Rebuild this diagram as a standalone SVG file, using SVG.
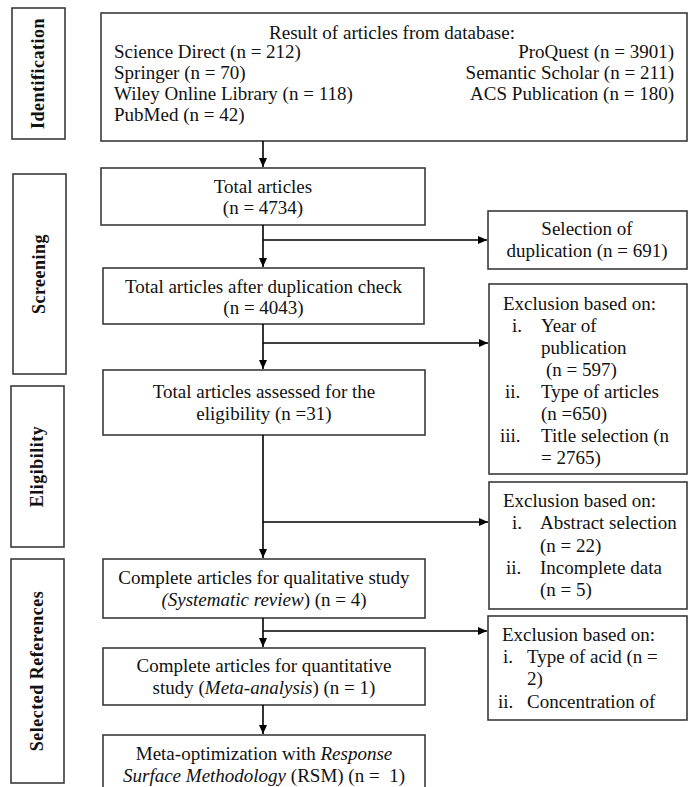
<svg xmlns="http://www.w3.org/2000/svg" width="688" height="787" viewBox="0 0 688 787">
<style>
.box{fill:#fff;stroke:#3a3a3a;stroke-width:1.6}
.t{font-family:"Liberation Serif","Times New Roman",serif;font-size:19px;fill:#111}
.c{text-anchor:middle}
.side{font-family:"Liberation Serif","Times New Roman",serif;font-size:18px;font-weight:bold;fill:#111;text-anchor:middle;letter-spacing:0.5px}
.ln{stroke:#000;stroke-width:1.6;fill:none}
</style>
<defs>
<marker id="ah" markerUnits="userSpaceOnUse" markerWidth="10" markerHeight="10" refX="9" refY="5" orient="auto">
<path d="M0,1 L9,5 L0,9 Z" fill="#000"/>
</marker>
</defs>
<rect width="688" height="787" fill="#fff"/>

<g id="side-identification">
<rect class="box" x="12" y="8" width="53" height="131"/>
<text class="side" transform="translate(44,73.5) rotate(-90)">Identification</text>
</g>
<g id="side-screening">
<rect class="box" x="13" y="174" width="53" height="200"/>
<text class="side" transform="translate(45,274) rotate(-90)">Screening</text>
</g>
<g id="side-eligibility">
<rect class="box" x="11" y="386" width="53" height="161"/>
<text class="side" transform="translate(43,466.5) rotate(-90)">Eligibility</text>
</g>
<g id="side-selected">
<rect class="box" x="11" y="559" width="53" height="224"/>
<text class="side" transform="translate(43,671) rotate(-90)">Selected References</text>
</g>

<g id="n-database">
<rect class="box" x="101" y="13" width="586" height="128"/>
<text class="t c" x="392" y="39">Result of articles from database:</text>
<text class="t" x="114" y="58">Science Direct (n = 212)</text>
<text class="t" x="114" y="79">Springer (n = 70)</text>
<text class="t" x="114" y="100">Wiley Online Library (n = 118)</text>
<text class="t" x="114" y="121">PubMed (n = 42)</text>
<text class="t" x="674" y="58" text-anchor="end">ProQuest (n = 3901)</text>
<text class="t" x="674" y="79" text-anchor="end">Semantic Scholar (n = 211)</text>
<text class="t" x="674" y="100" text-anchor="end">ACS Publication (n = 180)</text>
</g>

<g id="n-total">
<rect class="box" x="101" y="168" width="324" height="57"/>
<text class="t c" x="263" y="193">Total articles</text>
<text class="t c" x="263" y="214">(n = 4734)</text>
</g>

<g id="n-dupcheck">
<rect class="box" x="103" y="268" width="321" height="56"/>
<text class="t c" x="263.5" y="293">Total articles after duplication check</text>
<text class="t c" x="263.5" y="314">(n = 4043)</text>
</g>

<g id="n-assessed">
<rect class="box" x="103" y="370" width="322" height="65"/>
<text class="t c" x="264" y="398">Total articles assessed for the</text>
<text class="t c" x="264" y="420">eligibility (n =31)</text>
</g>

<g id="n-qualitative">
<rect class="box" x="103" y="559" width="322" height="59"/>
<text class="t c" x="264" y="584">Complete articles for qualitative study</text>
<text class="t c" x="264" y="606"><tspan font-style="italic">(Systematic review</tspan>) (n = 4)</text>
</g>

<g id="n-quantitative">
<rect class="box" x="103" y="648" width="322" height="57"/>
<text class="t c" x="264" y="672">Complete articles for quantitative</text>
<text class="t c" x="264" y="694">study (<tspan font-style="italic">Meta-analysis</tspan>) (n = 1)</text>
</g>

<g id="n-rsm">
<rect class="box" x="103" y="735" width="322" height="70"/>
<text class="t c" x="264" y="760">Meta-optimization with <tspan font-style="italic">Response</tspan></text>
<text class="t c" x="264" y="782" style="white-space:pre"><tspan font-style="italic">Surface Methodology</tspan> (RSM) (n =  1)</text>
</g>

<g id="n-duplication">
<rect class="box" x="488" y="211" width="199" height="58"/>
<text class="t c" x="587" y="235">Selection of</text>
<text class="t c" x="587" y="257">duplication (n = 691)</text>
</g>

<g id="n-excl1">
<rect class="box" x="489" y="284" width="198" height="190"/>
<text class="t" x="503" y="310">Exclusion based on:</text>
<text class="t" x="512" y="332">i.</text><text class="t" x="541" y="332">Year of</text>
<text class="t" x="541" y="354">publication</text>
<text class="t" x="546" y="376">(n = 597)</text>
<text class="t" x="505" y="398">ii.</text><text class="t" x="541" y="398">Type of articles</text>
<text class="t" x="541" y="420">(n =650)</text>
<text class="t" x="500" y="442">iii.</text><text class="t" x="541" y="442">Title selection (n</text>
<text class="t" x="541" y="464">= 2765)</text>
</g>

<g id="n-excl2">
<rect class="box" x="489" y="482" width="198" height="127"/>
<text class="t" x="503" y="507">Exclusion based on:</text>
<text class="t" x="512" y="529">i.</text><text class="t" x="540" y="529">Abstract selection</text>
<text class="t" x="540" y="552">(n = 22)</text>
<text class="t" x="506" y="574">ii.</text><text class="t" x="540" y="574">Incomplete data</text>
<text class="t" x="540" y="596">(n = 5)</text>
</g>

<g id="n-excl3">
<rect class="box" x="488" y="616" width="199" height="104"/>
<text class="t" x="502" y="641">Exclusion based on:</text>
<text class="t" x="503" y="663">i.</text><text class="t" x="527" y="663">Type of acid (n =</text>
<text class="t" x="527" y="685">2)</text>
<text class="t" x="498" y="708">ii.</text><text class="t" x="527" y="708">Concentration of</text>
</g>

<g id="connectors">
<line class="ln" x1="263" y1="141" x2="263" y2="167" marker-end="url(#ah)"/>
<line class="ln" x1="263" y1="225" x2="263" y2="267" marker-end="url(#ah)"/>
<line class="ln" x1="263" y1="240" x2="487" y2="240" marker-end="url(#ah)"/>
<line class="ln" x1="263" y1="324" x2="263" y2="369" marker-end="url(#ah)"/>
<line class="ln" x1="263" y1="343" x2="488" y2="343" marker-end="url(#ah)"/>
<line class="ln" x1="263" y1="435" x2="263" y2="558" marker-end="url(#ah)"/>
<line class="ln" x1="263" y1="522" x2="488" y2="522" marker-end="url(#ah)"/>
<line class="ln" x1="263" y1="618" x2="263" y2="647" marker-end="url(#ah)"/>
<line class="ln" x1="263" y1="631" x2="487" y2="631" marker-end="url(#ah)"/>
<line class="ln" x1="263" y1="705" x2="263" y2="734" marker-end="url(#ah)"/>
</g>
</svg>
